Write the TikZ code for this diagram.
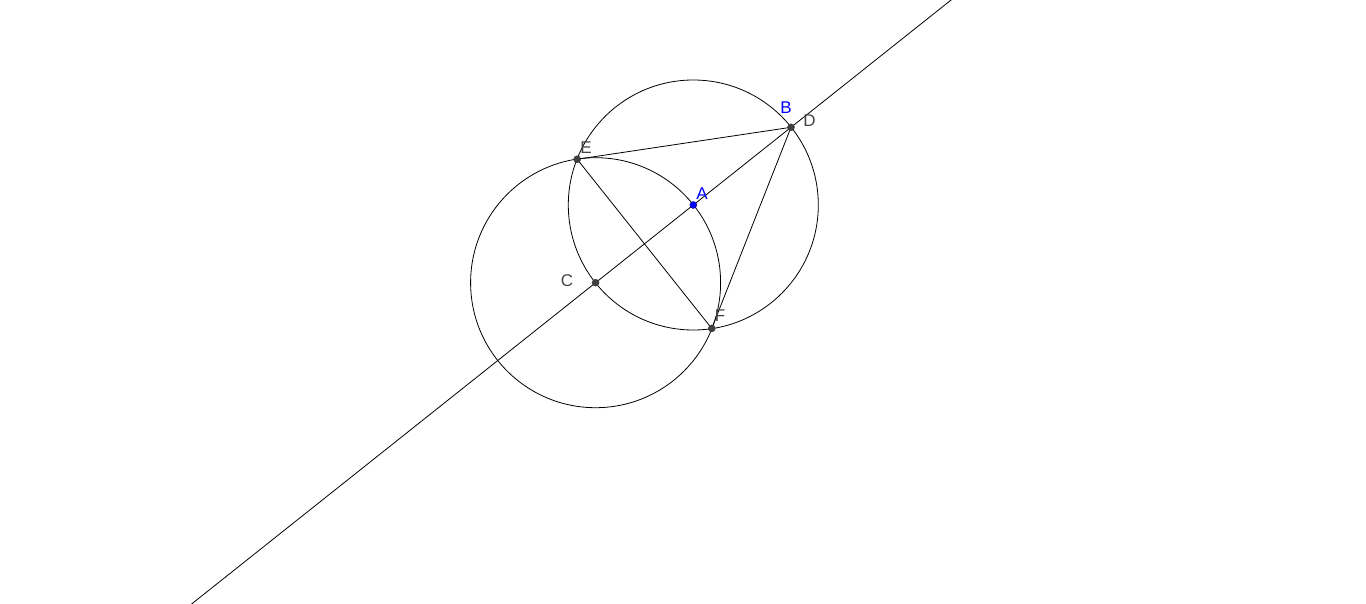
\documentclass[tikz,border=0pt]{standalone}
\usepackage{fontspec}
\setmainfont{Liberation Sans}
\usetikzlibrary{calc}
\definecolor{ptgray}{RGB}{64,64,64}
\definecolor{lblgray}{RGB}{68,68,68}
\tikzset{
  geo/.style={line width=0.8pt, black},
  pt/.style={circle, fill=ptgray, draw=black!80, line width=0.4pt, inner sep=0pt, minimum size=7pt},
  ptblue/.style={pt, fill=blue, draw=blue!50!black},
  lbl/.style={text=lblgray, font=\fontsize{17}{17}\selectfont, inner sep=0pt},
  lblblue/.style={lbl, text=blue}
}
\begin{document}
\begin{tikzpicture}[x=1pt,y=-1pt]
	\useasboundingbox (0,0) rectangle (1366,604);
	\coordinate (A) at (693.3,205);
	\coordinate (B) at (791,127.3);
	\coordinate (C) at ($(A)!-1!(B)$);
	\coordinate (E) at ($(A)!1!-60:(C)$);
	\coordinate (F) at ($(A)!1!60:(C)$);
	% line through C and B
	\begin{scope}
		\clip (0,0) rectangle (1366,604);
		\draw[geo] ($(C)!-2.1!(B)$) -- ($(C)!1.85!(B)$);
	\end{scope}
	\draw[geo] (A) circle[radius=125];
	\draw[geo] (C) circle[radius=125];
	\draw[geo] (E) -- (B) -- (F) -- (E);
	\node[pt] (Ept) at (E) {};
	\node[pt] (Bpt) at (B) {};
	\node[pt] (Cpt) at (C) {};
	\node[pt] (Fpt) at (F) {};
	\node[ptblue] (Apt) at (A) {};
	\node[lbl] (Elbl) at (586,148) {E};
	\node[lblblue] (Albl) at (702,193.5) {A};
	\node[lblblue] (Blbl) at (786,108) {B};
	\node[lbl] (Dlbl) at (809.5,121) {D};
	\node[lbl] (Clbl) at (567,281) {C};
	\node[lbl] (Flbl) at (720,316) {F};
\end{tikzpicture}
\end{document}
